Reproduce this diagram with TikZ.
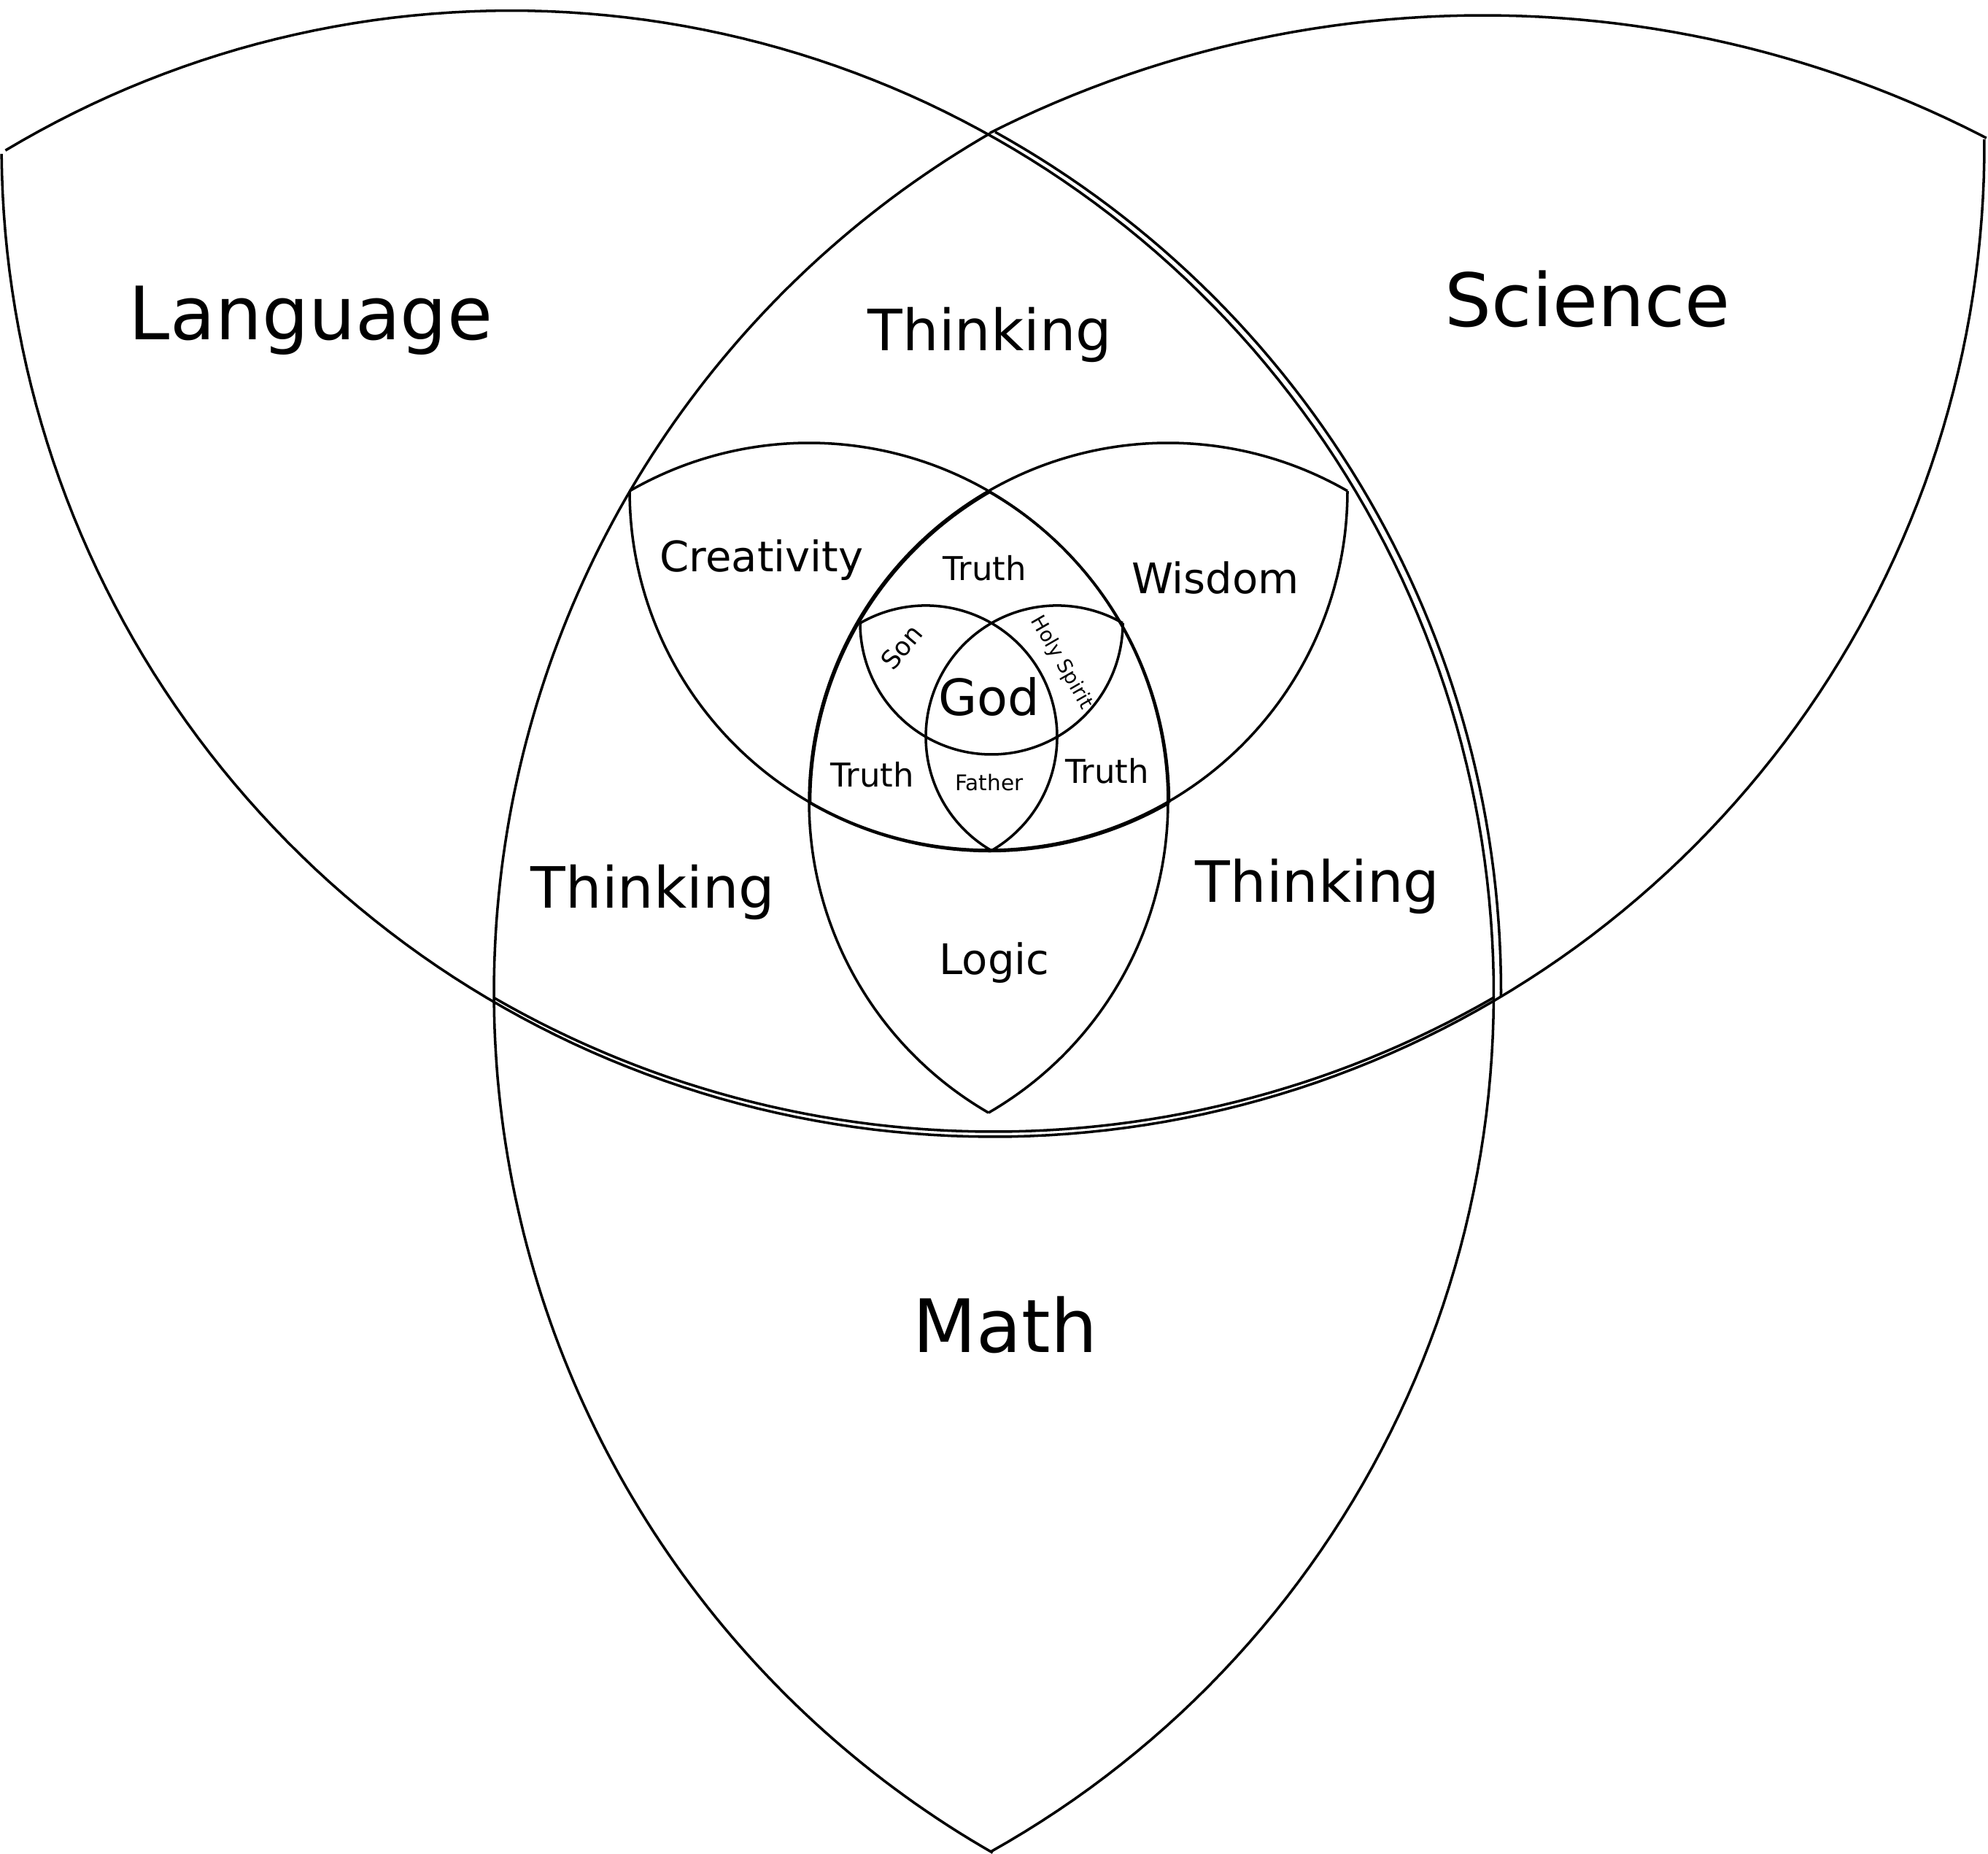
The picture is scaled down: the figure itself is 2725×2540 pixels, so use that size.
\documentclass[tikz,border=0pt]{standalone}
\usepackage{fontspec}
\setmainfont{DejaVu Sans}
\newcommand\myarc[5]{\draw[ln] plot[domain=#4:#5, samples=160, variable=\t] ({#1+#3*cos(\t)},{#2+#3*sin(\t)});}
\begin{document}
\begin{tikzpicture}[x=0.01cm,y=-0.01cm,
  ln/.style={line width=1pt, line join=round, line cap=butt},
  lbl/.style={anchor=base, inner sep=0pt}]
\useasboundingbox (0,0) rectangle (2725,2540);
\fill[white] (0,0) rectangle (2725,2540);
% ---- outer level ----
\myarc{1361}{199}{1359}{-0.34}{179.5}
\myarc{700}{1362}{1347.5}{-120.93}{60.75}
\myarc{2036}{1360}{1359}{119.8}{240.04}
\myarc{2033}{1520}{1499}{243.2}{297.4}
\myarc{710}{1359}{1347.5}{-60.96}{0.34}
\myarc{1362}{181}{1370}{60}{120}
% ---- second level ----
\myarc{1109}{1099}{492}{-120}{60}
\myarc{1601}{1099}{492}{120}{300}
\myarc{1355}{673}{492}{0}{180}
\myarc{1110.5}{1100.5}{492}{-60}{0}
\myarc{1602.5}{1100.5}{492}{180}{240}
\myarc{1356.5}{674.5}{492}{60}{120}
% ---- third level ----
\myarc{1269}{1009.9}{180}{-120}{60}
\myarc{1449}{1009.9}{180}{120}{300}
\myarc{1359}{854}{180}{0}{180}
% ---- labels ----
\node[lbl, font=\fontsize{28.7}{34}\selectfont] (language) at (426,466) {Language};
\node[lbl, font=\fontsize{28.7}{34}\selectfont] (science) at (2176,448) {Science};
\node[lbl, font=\fontsize{28.7}{34}\selectfont] (math) at (1378,1853) {Math};
\node[lbl, font=\fontsize{22.2}{27}\selectfont] (thinkT) at (1357,481) {Thinking};
\node[lbl, font=\fontsize{22.2}{27}\selectfont] (thinkL) at (895,1244) {Thinking};
\node[lbl, font=\fontsize{22.2}{27}\selectfont] (thinkR) at (1806,1236) {Thinking};
\node[lbl, font=\fontsize{16.4}{20}\selectfont] (creat) at (1044,783) {Creativity};
\node[lbl, font=\fontsize{16.4}{20}\selectfont] (wisdom) at (1666,813) {Wisdom};
\node[lbl, font=\fontsize{16.4}{20}\selectfont] (logic) at (1363,1335) {Logic};
\node[lbl, font=\fontsize{12.8}{15}\selectfont] (truthT) at (1350,795) {Truth};
\node[lbl, font=\fontsize{12.8}{15}\selectfont] (truthL) at (1196,1078) {Truth};
\node[lbl, font=\fontsize{12.8}{15}\selectfont] (truthR) at (1518,1073) {Truth};
\node[lbl, font=\fontsize{19.5}{23}\selectfont] (god) at (1356,980) {God};
\node[lbl, font=\fontsize{8.4}{10}\selectfont] (father) at (1356,1083) {Father};
\node[inner sep=0pt, rotate=50, font=\fontsize{10}{12}\selectfont] (son) at (1236,887) {Son};
\node[inner sep=0pt, rotate=-60, font=\fontsize{7.8}{9}\selectfont] (holy) at (1455,908) {Holy Spirit};
\end{tikzpicture}
\end{document}
